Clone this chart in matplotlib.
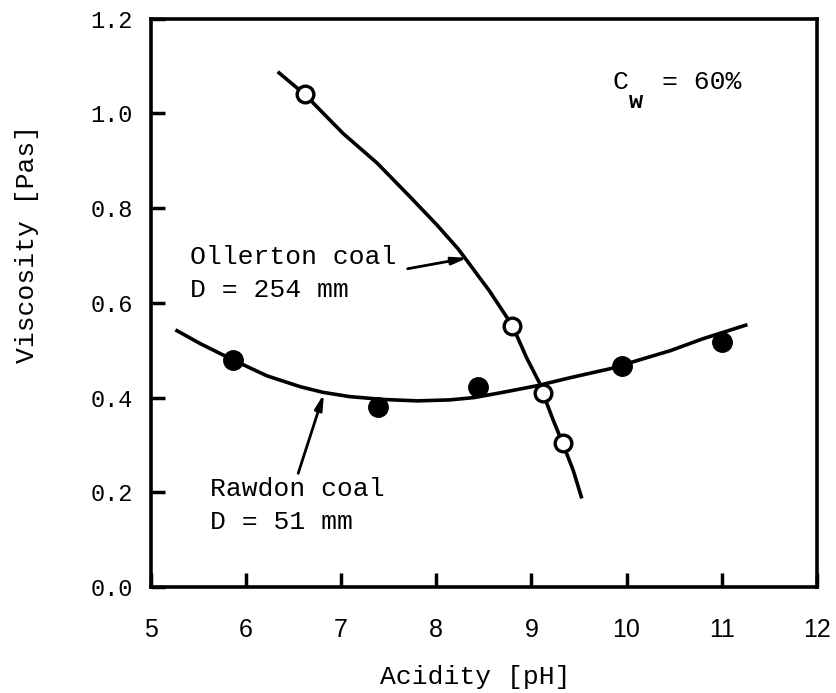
import matplotlib
matplotlib.use("Agg")
import matplotlib.pyplot as plt

# measured points
rawdon_ph = [5.86, 7.39, 8.44, 9.95, 11.00]
rawdon_visc = [0.480, 0.379, 0.423, 0.467, 0.518]
ollerton_ph = [6.62, 8.80, 9.12, 9.33]
ollerton_visc = [1.040, 0.552, 0.410, 0.303]

# hand drawn fit curves
rawdon_curve_ph = [5.26, 5.52, 5.86, 6.22, 6.57, 6.81, 7.09, 7.44, 7.80, 8.14, 8.40,
                   8.70, 9.06, 9.41, 9.83, 10.11, 10.46, 10.80, 11.27]
rawdon_curve_visc = [0.543, 0.514, 0.480, 0.446, 0.423, 0.411, 0.402, 0.396, 0.393, 0.395, 0.400,
                     0.411, 0.425, 0.442, 0.461, 0.478, 0.499, 0.524, 0.554]
ollerton_curve_ph = [6.335, 6.62, 7.02, 7.38, 7.72, 8.01, 8.23, 8.32, 8.56, 8.80, 8.95,
                     9.09, 9.12, 9.23, 9.33, 9.44, 9.53]
ollerton_curve_visc = [1.088, 1.040, 0.958, 0.895, 0.825, 0.764, 0.714, 0.690, 0.625, 0.552, 0.484,
                       0.429, 0.410, 0.352, 0.303, 0.246, 0.187]

x_ticks = [5, 6, 7, 8, 9, 10, 11, 12]
y_ticks = [0.0, 0.2, 0.4, 0.6, 0.8, 1.0, 1.2]

mono = "Liberation Mono"
sans = "Liberation Sans"

fig = plt.figure(figsize=(8.37, 6.93), dpi=100)
ax = fig.add_axes([0.180, 0.153, 0.796, 0.820])

ax.plot(rawdon_curve_ph, rawdon_curve_visc, color="black", lw=2.6,
        solid_capstyle="butt", solid_joinstyle="round")
ax.plot(ollerton_curve_ph, ollerton_curve_visc, color="black", lw=2.6,
        solid_capstyle="butt", solid_joinstyle="round")
ax.plot(rawdon_ph, rawdon_visc, "o", color="black", ms=14, zorder=5)
ax.plot(ollerton_ph, ollerton_visc, "o", mfc="white", mec="black", mew=2.4, ms=12, zorder=5)

ax.set_xlim(5, 12)
ax.set_ylim(0, 1.2)
ax.set_xticks(x_ticks)
ax.set_yticks(y_ticks)
ax.set_xticklabels([str(t) for t in x_ticks], fontfamily=sans, fontsize=18)
ax.set_yticklabels(["%.1f" % t for t in y_ticks], fontfamily=mono, fontsize=17)
ax.tick_params(axis="both", direction="in", length=10, width=2.5)
ax.tick_params(axis="x", pad=22)
ax.tick_params(axis="y", pad=13)
for sp in ax.spines.values():
    sp.set_linewidth(2.6)

fig.text(0.032, 0.648, "Viscosity [Pas]", rotation=90, ha="center", va="center",
         fontfamily=mono, fontsize=19)
fig.text(0.568, 0.023, "Acidity [pH]", ha="center", va="center", fontfamily=mono, fontsize=19)

arrow = dict(arrowstyle="-|>,head_length=0.9,head_width=0.22", color="black", lw=2,
             shrinkA=0, shrinkB=0)

ax.text(5.41, 0.662, "Ollerton coal\nD = 254 mm", fontfamily=mono, fontsize=19,
        ha="left", va="center", linespacing=1.45)
ax.annotate("", xy=(8.33, 0.695), xytext=(7.70, 0.672), arrowprops=arrow)

ax.text(5.62, 0.172, "Rawdon coal\nD = 51 mm", fontfamily=mono, fontsize=19,
        ha="left", va="center", linespacing=1.45)
ax.annotate("", xy=(6.82, 0.408), xytext=(6.55, 0.24), arrowprops=arrow)

ax.text(9.85, 1.067, "C", fontfamily=mono, fontsize=19, ha="left", va="center")
ax.text(10.02, 1.026, "w", fontfamily=mono, fontsize=17, fontweight="bold", ha="left", va="center")
ax.text(10.37, 1.067, "= 60%", fontfamily=mono, fontsize=19, ha="left", va="center")

fig.savefig("out.png", dpi=100)
